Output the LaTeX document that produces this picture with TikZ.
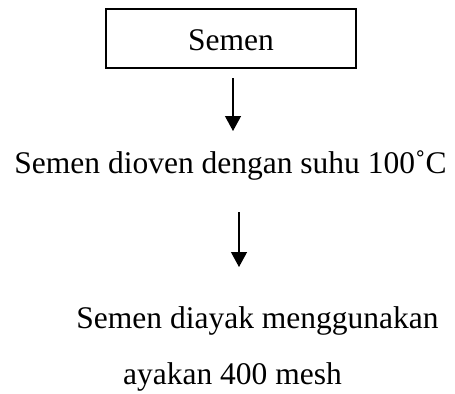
\documentclass[tikz,border=0pt]{standalone}
\usepackage{fontspec}
\setmainfont{Liberation Serif}
\usetikzlibrary{arrows.meta}
\tikzset{
  label text/.style={inner sep=0pt, anchor=base, font=\fontsize{31.5bp}{36bp}\selectfont},
  stepbox/.style={draw, line width=2bp, minimum width=250bp, minimum height=59bp, inner sep=0pt},
  flow/.style={line width=1.2bp, -{Triangle[width=16bp,length=15bp]}}
}
\begin{document}
\begin{tikzpicture}[x=1bp,y=-1bp]
  \useasboundingbox (0,0) rectangle (455,393);
  % first step in a framed box
  \node[stepbox] (semen) at (231,38.5) {};
  \node[label text] (semenlbl) at (231,50) {Semen};
  % process steps
  \node[label text] (oven) at (230.5,173) {Semen dioven dengan suhu 100˚C};
  \node[label text] (ayak) at (257.5,328) {Semen diayak menggunakan};
  \node[label text] (ayakb) at (232.5,384) {ayakan 400 mesh};
  % arrows between steps
  \coordinate (a1s) at (233,78);
  \coordinate (a1e) at (233,131);
  \coordinate (a2s) at (239,212);
  \coordinate (a2e) at (239,267);
  \draw[flow] (a1s) -- (a1e);
  \draw[flow] (a2s) -- (a2e);
\end{tikzpicture}
\end{document}
